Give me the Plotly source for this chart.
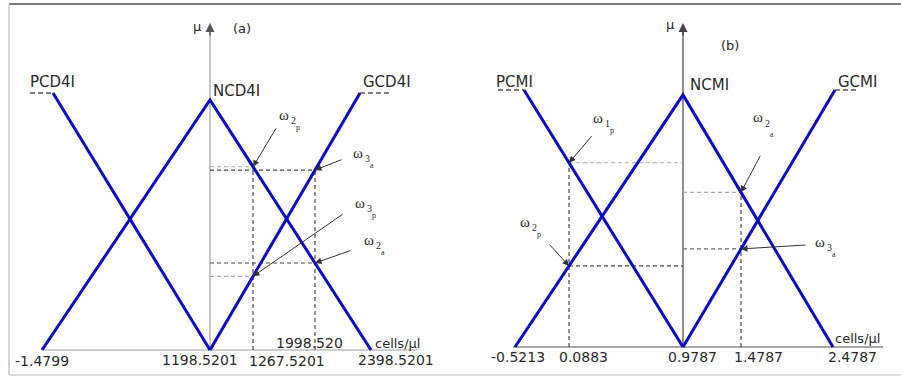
import numpy as np
import plotly.graph_objects as go

W, H = 901, 377

# ---------------- data: panel (a) CD4 count (schematic positions, origin at the mu axis) ----------------
a_pcd4i_x = [-157, 0]
a_pcd4i_mu = [1.0, 0.0]
a_ncd4i_x = [-168, 0, 161]
a_ncd4i_mu = [0.0, 0.973, 0.0]
a_gcd4i_x = [0, 150]
a_gcd4i_mu = [0.0, 1.0]
a_pcd4i_ext = [-180, -157]
a_gcd4i_ext = [150, 182]
a_cuts = [43, 105]
a_tick_x = [-168, 0, 43, 105, 161]
a_tick_text = ["-1.4799", "1198.5201", "1267.5201", "1998.520", "2398.5201"]
a_set_names = ["PCD4I", "NCD4I", "GCD4I"]

# ---------------- data: panel (b) CMI ----------------
b_pcmi_x = [-159, 0]
b_pcmi_mu = [1.0, 0.0]
b_ncmi_x = [-168, 0, 150]
b_ncmi_mu = [0.0, 0.981, 0.0]
b_gcmi_x = [0, 152]
b_gcmi_mu = [0.0, 1.0]
b_pcmi_ext = [-185, -159]
b_gcmi_ext = [152, 176]
b_cuts = [-114, 58]
b_tick_x = [-168, -114, 0, 58, 150]
b_tick_text = ["-0.5213", "0.0883", "0.9787", "1.4787", "2.4787"]
b_set_names = ["PCMI", "NCMI", "GCMI"]

# ---------------- styles ----------------
BLUE = "#0a0acc"
DARK = "#4a4a4a"
LIGHT = "#ababab"
TXT = "#2a2a2a"
SANS = "DejaVu Sans"
SERIF = "Liberation Serif"
GDASH = "4px,3px"

fig = go.Figure()


def line(x, y, xa, ya, color, width, dash=None):
    fig.add_trace(go.Scatter(x=list(x), y=list(y), mode="lines", xaxis=xa, yaxis=ya,
                             line=dict(color=color, width=width, dash=dash),
                             hoverinfo="skip", showlegend=False))


def px(X, Y):
    return X / W, 1 - Y / H


ann = []


def text(X, Y, s, size=14, font=SANS, color=TXT, xanchor="center"):
    x, y = px(X, Y)
    ann.append(dict(x=x, y=y, xref="paper", yref="paper", text=s, showarrow=False,
                    xanchor=xanchor, yanchor="middle",
                    font=dict(family=font, size=size, color=color)))


def omega(X, Y, digit, letter, dx=(9, 14), dy=(5, 12)):
    text(X, Y, "ω", size=15, font=SERIF)
    text(X + dx[0], Y + dy[0], digit, size=10, font=SERIF)
    text(X + dx[1], Y + dy[1], letter, size=8, font=SERIF)


def arrow(x, y, xa, ya, axp, ayp):
    ann.append(dict(x=x, y=y, xref=xa, yref=ya, ax=axp, ay=ayp, text="", showarrow=True,
                    arrowhead=2, arrowsize=1.3, arrowwidth=1, arrowcolor="#333", standoff=0))


# ================= panel (a) =================
XA, YA = "x", "y"
line([-167, 207], [0, 0], XA, YA, "#bdbdbd", 1.5)
line([0, 0], [0, 1.27], XA, YA, "#b5b5b5", 1.5)
ann.append(dict(x=0, y=1.272, xref="x", yref="y", ax=0, ay=14, text="", showarrow=True,
                arrowhead=2, arrowsize=1.2, arrowwidth=1.5, arrowcolor="#555"))

c1, c2 = a_cuts
n1 = np.interp(c1, a_ncd4i_x, a_ncd4i_mu)
g1 = np.interp(c1, a_gcd4i_x, a_gcd4i_mu)
n2 = np.interp(c2, a_ncd4i_x, a_ncd4i_mu)
g2 = np.interp(c2, a_gcd4i_x, a_gcd4i_mu)
line([c1, c1], [0, max(n1, g1)], XA, YA, DARK, 1.2, GDASH)
line([c2, c2], [0, max(n2, g2)], XA, YA, DARK, 1.2, GDASH)
line([0, c1], [n1, n1], XA, YA, LIGHT, 1.2, GDASH)
line([0, c1], [g1, g1], XA, YA, LIGHT, 1.2, GDASH)
line([0, c2], [g2, g2], XA, YA, DARK, 1.2, GDASH)
line([0, c2], [n2, n2], XA, YA, DARK, 1.2, GDASH)

line(a_pcd4i_ext, [1, 1], XA, YA, "#555", 1.5, "5px,3px")
line(a_gcd4i_ext, [1, 1], XA, YA, "#555", 1.5, "5px,3px")
line(a_pcd4i_x, a_pcd4i_mu, XA, YA, BLUE, 3)
line(a_ncd4i_x, a_ncd4i_mu, XA, YA, BLUE, 3)
line(a_gcd4i_x, a_gcd4i_mu, XA, YA, BLUE, 3)

arrow(c1, n1, XA, YA, 24, -40)
arrow(c2, g2, XA, YA, 28, -11)
arrow(c1, g1, XA, YA, 91, -63)
arrow(c2, n2, XA, YA, 37, -13)

# ================= panel (b) =================
XB, YB = "x2", "y2"
line([-170, 200], [0, 0], XB, YB, "#8a8a8a", 1.5)
line([0, 0], [0, 1.25], XB, YB, "#6a6a6a", 1.5)
ann.append(dict(x=0, y=1.261, xref="x2", yref="y2", ax=0, ay=14, text="", showarrow=True,
                arrowhead=2, arrowsize=1.2, arrowwidth=1.5, arrowcolor="#444"))

d1, d2 = b_cuts
p1 = np.interp(d1, b_pcmi_x, b_pcmi_mu)
m1 = np.interp(d1, b_ncmi_x, b_ncmi_mu)
m2 = np.interp(d2, b_ncmi_x, b_ncmi_mu)
q2 = np.interp(d2, b_gcmi_x, b_gcmi_mu)
line([d1, d1], [0, p1], XB, YB, DARK, 1.2, GDASH)
line([d2, d2], [0, m2], XB, YB, DARK, 1.2, GDASH)
line([d1, 0], [p1, p1], XB, YB, LIGHT, 1.2, GDASH)
line([d1, 0], [m1, m1], XB, YB, DARK, 1.2, GDASH)
line([0, d2], [m2, m2], XB, YB, LIGHT, 1.2, GDASH)
line([0, d2], [q2, q2], XB, YB, "#6a6a6a", 1.2, GDASH)

line(b_pcmi_ext, [1, 1], XB, YB, "#555", 1.5, "5px,3px")
line(b_gcmi_ext, [1, 1], XB, YB, "#555", 1.5, "5px,3px")
line(b_pcmi_x, b_pcmi_mu, XB, YB, BLUE, 3)
line(b_ncmi_x, b_ncmi_mu, XB, YB, BLUE, 3)
line(b_gcmi_x, b_gcmi_mu, XB, YB, BLUE, 3)

arrow(d1, p1, XB, YB, 24, -28)
arrow(d2, m2, XB, YB, 20, -38)
arrow(d1, m1, XB, YB, -21, -23)
arrow(d2, q2, XB, YB, 66, -4)

# ================= texts =================
text(197, 27, "μ", size=13)
text(242, 28, "(a)", size=13)
text(52, 82, a_set_names[0], size=15)
text(237, 91, a_set_names[1], size=15)
text(387, 82, a_set_names[2], size=15)
a_lab_pos = [(42, 361, "center"), (240, 360, "right"), (247, 361, "left"),
             (345, 343, "right"), (396, 360, "center")]
for s, (X, Y, anc) in zip(a_tick_text, a_lab_pos):
    text(X, Y, s, size=14, xanchor=anc)
text(373, 343, "cells/μl", size=13, xanchor="left")
omega(284, 115, "2", "p")
omega(358, 153, "3", "a")
omega(360, 203, "3", "p")
omega(369, 240, "2", "a")

text(670, 25, "μ", size=13)
text(730, 45, "(b)", size=13)
text(514, 82, b_set_names[0], size=15)
text(709, 85, b_set_names[1], size=15)
text(857, 82, b_set_names[2], size=15)
b_lab_pos = [518, 583, 692, 758, 852]
for s, X in zip(b_tick_text, b_lab_pos):
    text(X, 357, s, size=14)
text(833, 338, "cells/μl", size=13, xanchor="left")
omega(598, 118, "1", "p")
omega(758, 117, "2", "a", dy=(6, 18))
omega(525, 222, "2", "p")
omega(820, 242, "3", "a")

shapes = [
    dict(type="line", xref="paper", yref="paper", x0=9 / W, x1=1, y0=1 - 4 / H, y1=1 - 4 / H,
         line=dict(color="#7a7a7a", width=2)),
    dict(type="line", xref="paper", yref="paper", x0=9 / W, x1=9 / W, y0=1 - 4 / H, y1=1 - 375 / H,
         line=dict(color="#c8c8c8", width=1.5)),
    dict(type="line", xref="paper", yref="paper", x0=9 / W, x1=1, y0=1 - 375 / H, y1=1 - 375 / H,
         line=dict(color="#d0d0d0", width=1.5)),
]

ax_off = dict(visible=False, showgrid=False, zeroline=False, fixedrange=True)
fig.update_layout(
    width=W, height=H, autosize=False,
    margin=dict(l=0, r=0, t=0, b=0, pad=0),
    paper_bgcolor="white", plot_bgcolor="white",
    showlegend=False,
    xaxis=dict(domain=[0, 450 / W], range=[-210, 240], **ax_off),
    yaxis=dict(domain=[0, 1], range=[(350 - H) / 257, 350 / 257], **ax_off),
    xaxis2=dict(domain=[450 / W, 1], range=[-233, 218], anchor="y2", **ax_off),
    yaxis2=dict(domain=[0, 1], range=[(347 - H) / 257, 347 / 257], anchor="x2", **ax_off),
    annotations=ann,
    shapes=shapes,
)

fig.write_html("out.html", config={"displayModeBar": False},
               post_script="document.body.style.margin='0';document.body.style.overflow='hidden';")
